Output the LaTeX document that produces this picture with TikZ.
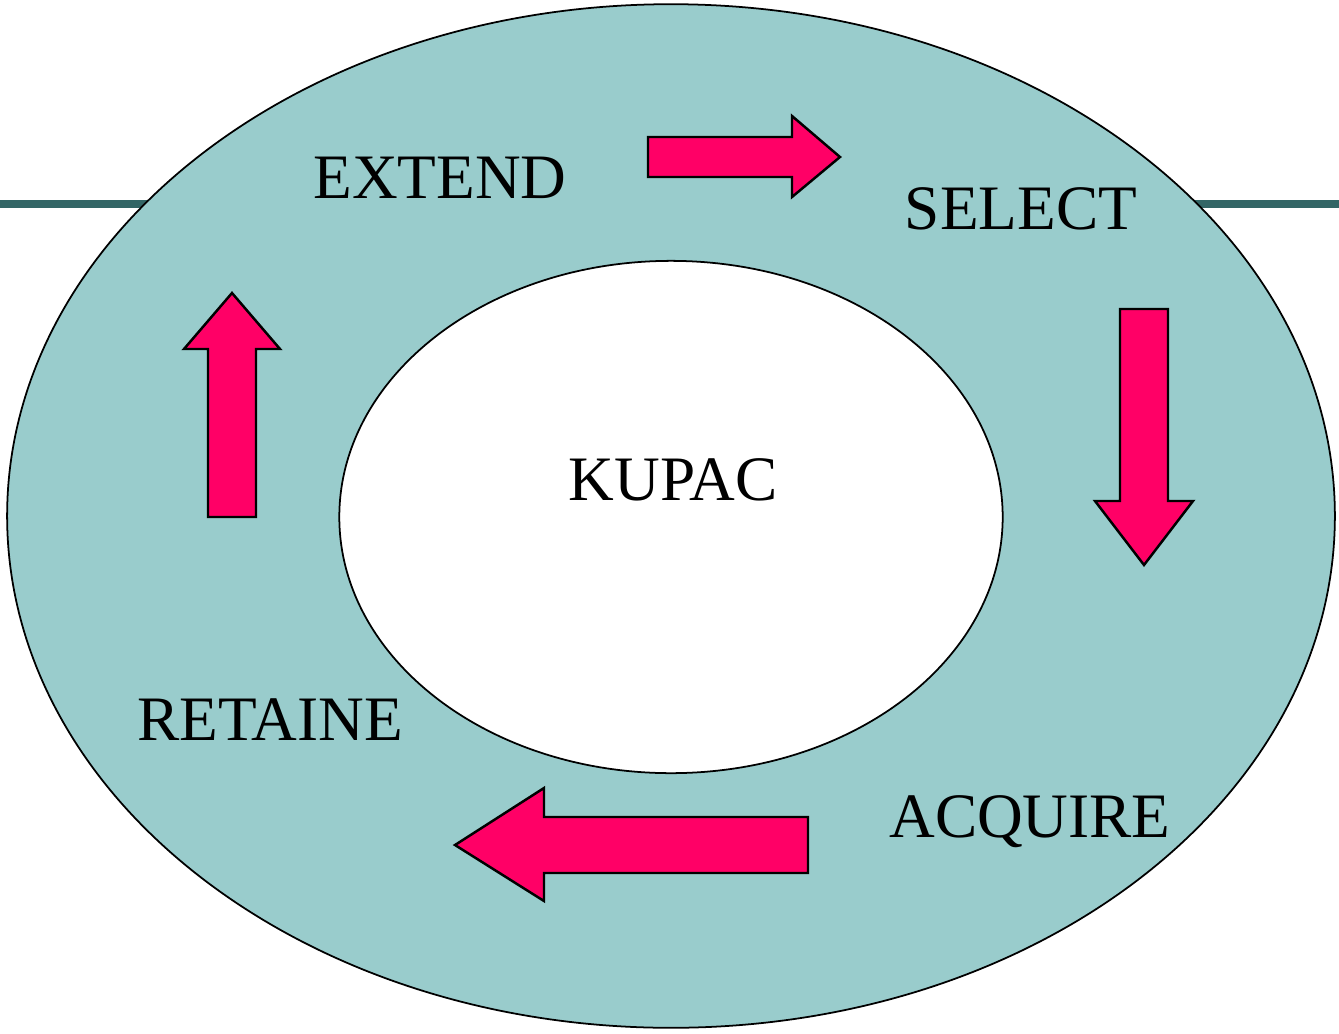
\documentclass[tikz,border=0pt]{standalone}
\usepackage{fontspec}
\setmainfont{Liberation Serif}
\usetikzlibrary{shapes.geometric,positioning}
\definecolor{ringteal}{RGB}{153,204,204}
\definecolor{ruledark}{RGB}{51,102,102}
\definecolor{arrowpink}{RGB}{255,0,102}
\tikzset{
  ring/.style={draw, ellipse, inner sep=0pt, line width=0.5pt},
  blockarrow/.style={draw, fill=arrowpink, line width=0.7pt, line join=miter},
  label/.style={font=\fontsize{18}{20}\selectfont, anchor=base}
}

\begin{document}
\begin{tikzpicture}[x=0.01cm, y=-0.01cm]
    \useasboundingbox (0,0) rectangle (1339,1033);

    % Rule behind the rings
    \draw[ruledark, line width=0.08cm] (0,204) -- (1339,204);

    % Outer and inner ring
    \node[ring, fill=ringteal, minimum width=13.27cm, minimum height=10.23cm] (outer) at (671,516) {};
    \node[ring, fill=white, minimum width=6.63cm, minimum height=5.12cm] (inner) at (671,517) {};

    % Steps
    \node[label] (kupac) at (673,500) {KUPAC};
    \node[label] (extend) at (440,198) {EXTEND};
    \node[label] (select) at (1021,229) {SELECT};
    \node[label] (acquire) at (1030,837) {ACQUIRE};
    \node[label] (retaine) at (270,740) {RETAINE};

    % Arrow: extend -> select
    \draw[blockarrow] (648,137) -- (792,137) -- (792,116) -- (840,157) -- (792,197) -- (792,177) -- (648,177) -- cycle;

    % Arrow: select -> acquire
    \draw[blockarrow] (1120,309) -- (1168,309) -- (1168,501) -- (1193,501) -- (1144,565) -- (1095,501) -- (1120,501) -- cycle;

    % Arrow: acquire -> retaine
    \draw[blockarrow] (808,817) -- (544,817) -- (544,788) -- (455,845) -- (544,901) -- (544,873) -- (808,873) -- cycle;

    % Arrow: retaine -> extend
    \draw[blockarrow] (208,517) -- (208,349) -- (184,349) -- (232,293) -- (280,349) -- (256,349) -- (256,517) -- cycle;
\end{tikzpicture}
\end{document}
